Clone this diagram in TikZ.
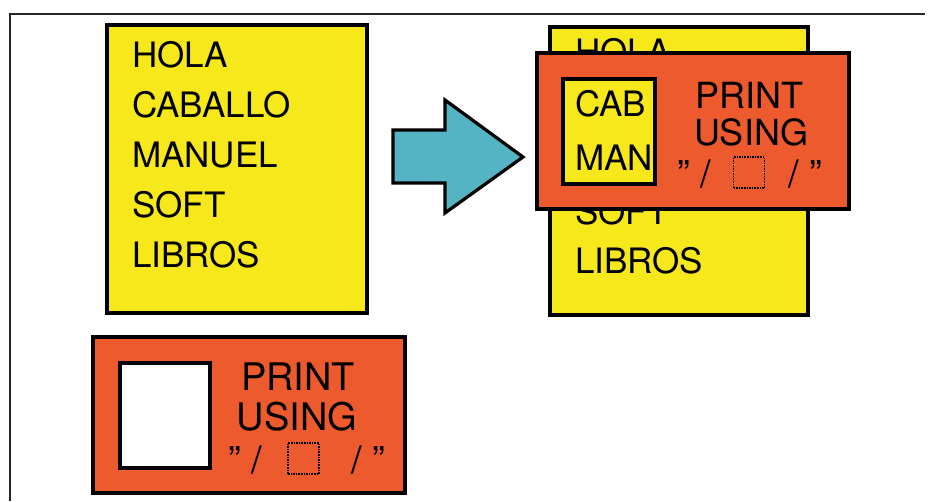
\documentclass[tikz,border=0pt]{standalone}
\usepackage{fontspec}
\usepackage{tikz}
\usepackage{xcolor}
\setmainfont{TeX Gyre Heros}

\definecolor{listyellow}{RGB}{246,232,26}
\definecolor{maskorange}{RGB}{236,90,46}
\definecolor{arrowcyan}{RGB}{84,180,196}

\begin{document}
\begin{tikzpicture}[x=1pt,y=-1pt,
  yellowbox/.style={fill=listyellow, draw=black, line width=3.2pt},
  orangebox/.style={fill=maskorange, draw=black, line width=3.2pt},
  holebox/.style={fill=white, draw=black, line width=3.2pt},
  listtext/.style={anchor=base west, inner sep=0pt, font=\fontsize{35}{40}\selectfont},
  bigtext/.style={anchor=base, inner sep=0pt, font=\fontsize{38}{44}\selectfont},
  quotetext/.style={inner sep=0pt, font=\fontsize{38}{44}\selectfont},
  slotbox/.style={draw=black, densely dotted, line width=1.6pt, minimum size=31pt, inner sep=0pt}]
\useasboundingbox (0,0) rectangle (932,501);

% Page frame
\draw[line width=1.3pt, black!85] (925,14) -- (10,14) -- (10,501);

% List before
\draw[yellowbox] (107,25) rectangle (367,313);
\node[listtext] (holaL) at (132,67) {HOLA};
\node[listtext] (caballoL) at (132,117) {CABALLO};
\node[listtext] (manuelL) at (132,167) {MANUEL};
\node[listtext] (softL) at (132,217) {SOFT};
\node[listtext] (librosL) at (132,267) {LIBROS};

% Arrow
\draw[fill=arrowcyan, draw=black, line width=3.2pt] (393,130) -- (445,130) -- (445,100)
  -- (523,157) -- (445,213) -- (445,183) -- (393,183) -- cycle;

% List after
\draw[yellowbox] (550,27) rectangle (808,315);
\node[listtext] (holaR) at (575,64) {HOLA};
\node[listtext] (softR) at (575,224) {SOFT};
\node[listtext] (librosR) at (575,273) {LIBROS};

% Mask laid over the list
\draw[orangebox] (537,53) rectangle (849,209);
\draw[yellowbox] (563,79) rectangle (655,184);
\node[listtext] (cabR) at (575,116) {CAB};
\node[listtext] (manR) at (575,170) {MAN};
\node[bigtext, font=\fontsize{36}{42}\selectfont] (printR) at (749,108) {PRINT};
\node[bigtext, font=\fontsize{36}{42}\selectfont] (usingR) at (751,145) {USING};
\node[quotetext, anchor=base west] (quoteAR) at (677,187) {" /};
\node[slotbox] (slotR) at (749,172.5) {};
\node[quotetext, anchor=base east] (quoteBR) at (822,187) {/ "};

% Mask alone
\draw[orangebox] (93,337) rectangle (405,493);
\draw[holebox] (120,363) rectangle (210,468);
\node[bigtext] (printM) at (298,390) {PRINT};
\node[bigtext] (usingM) at (297,430) {USING};
\node[quotetext, anchor=base west] (quoteAM) at (228,473) {" /};
\node[slotbox] (slotM) at (303.5,458.5) {};
\node[quotetext, anchor=base east] (quoteBM) at (385,473) {/ "};
\end{tikzpicture}
\end{document}
